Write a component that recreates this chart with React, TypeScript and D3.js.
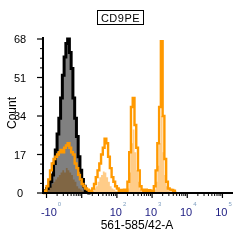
import React from 'react';
import * as d3 from 'd3';

// histogram bins in display units (decades), 0.05 wide, first bin starts at -0.1
const BIN_START = -0.1;
const BIN_W = 0.05;

// control sample: black outline, gray fill
const controlCounts = [
  0.5, 1, 2, 3, 5, 8, 13, 19, 26, 33, 42, 52, 60, 66, 68, 62, 55, 42, 33, 25,
  16, 10, 6, 3, 1, 0.5, 0,
];

// stained sample: orange outline
const stainedLine = [
  0, 1, 3, 6, 10, 13, 15, 16, 17, 18, 19, 18, 20, 21, 22, 20, 18, 17, 13, 11,
  8, 6, 4, 3, 2, 1.5, 1, 1, 2, 4, 7, 10, 13, 17, 20, 24, 22, 16, 11, 7,
  5, 3, 2, 1, 1.3, 1, 1.5, 1, 5, 18, 38, 42, 30, 20, 10, 3, 1.5, 1, 1.5, 1,
  1.2, 1, 1, 3, 10, 22, 38, 67, 34, 15, 5, 2, 1.5, 1.3, 1, 0,
];

// second stained sample: light orange fill
const stainedFill = [
  0, 0.5, 1, 2, 3, 4, 5, 6, 7, 8, 9, 10, 9, 11, 10, 9, 8, 6, 5, 3,
  2, 1.5, 1, 0.6, 0.5, 0.4, 0.5, 0.5, 1, 2, 3, 5, 7, 8, 9.5, 9, 7, 5, 3, 2,
  1.5, 1, 0.6, 0.5, 0.6, 0.5, 0.6, 0.5, 2, 9, 22, 28, 18, 10, 5, 1.5, 0.8, 0.5, 0.6, 0.5,
  0.5, 0.5, 0.6, 1.5, 5, 12, 22, 34, 18, 8, 3, 1, 0.6, 0.5, 0.3, 0,
];

const yTicks = [0, 17, 34, 51, 68];
const xTickPos = [0.15, 2, 3, 4, 5];
const xTickBase = ['-10', '10', '10', '10', '10'];
const xTickExp = ['0', '2', '3', '4', '5'];

const FONT = 'Liberation Sans, Arial, sans-serif';

const App: React.FC = () => {
  const x = d3.scaleLinear().domain([-0.1, 5.3]).range([43, 233]);
  const y = d3.scaleLinear().domain([0, 68]).range([193, 39]);

  const toPts = (arr: number[]) => [
    ...arr.map((c, i) => ({ u: BIN_START + i * BIN_W, c })),
    { u: BIN_START + arr.length * BIN_W, c: 0 },
  ];

  const area = d3.area<{ u: number; c: number }>()
    .x(d => x(d.u))
    .y0(y(0))
    .y1(d => y(d.c))
    .curve(d3.curveStepAfter);

  const line = d3.line<{ u: number; c: number }>()
    .x(d => x(d.u))
    .y(d => y(d.c))
    .curve(d3.curveStepAfter);

  const ctrl = toPts(controlCounts);
  const stLine = toPts(stainedLine);
  const stFill = toPts(stainedFill);

  // minor ticks: 4 steps between y majors, log steps between x decades
  const yMinor: number[] = [];
  for (let i = 0; i < yTicks.length - 1; i++) {
    const step = (yTicks[i + 1] - yTicks[i]) / 4;
    for (let k = 1; k < 4; k++) yMinor.push(yTicks[i] + k * step);
  }
  const xMinor: number[] = [];
  for (let d = 0; d < 5; d++) {
    for (let k = 2; k < 10; k++) xMinor.push(d + Math.log10(k));
  }
  const xMajor = [0, 1, 2, 3, 4, 5];

  return (
    <svg width={240} height={240} style={{ position: 'absolute', left: 0, top: 0, background: '#fff' }}>
      {/* histograms */}
      <path d={area(ctrl) || ''} fill="#808080" />
      <path d={line(ctrl) || ''} fill="none" stroke="#000" strokeWidth={3} />
      <path d={area(stFill) || ''} fill="#ffcc88" style={{ mixBlendMode: 'multiply' }} />
      <path d={line(stLine) || ''} fill="none" stroke="#ff9900" strokeWidth={2.4} />

      {/* y axis */}
      <line x1={43} x2={43} y1={y(68) - 2} y2={y(0) + 1} stroke="#000" strokeWidth={2} />
      {yTicks.map(t => (
        <g key={'y' + t}>
          <line x1={37} x2={43} y1={y(t)} y2={y(t)} stroke="#000" strokeWidth={1.2} />
          <text x={20} y={y(t) + 4} textAnchor="middle" fontSize={11} fontFamily={FONT} fill="#000">{t}</text>
        </g>
      ))}
      {yMinor.map(t => (
        <line key={'ym' + t} x1={40} x2={43} y1={y(t)} y2={y(t)} stroke="#000" strokeWidth={1} />
      ))}
      <text transform={`translate(16,113) rotate(-90)`} textAnchor="middle" fontSize={12} fontFamily={FONT} fill="#000">Count</text>

      {/* x axis */}
      <line x1={42} x2={233} y1={193} y2={193} stroke="#000" strokeWidth={2} />
      {xMajor.map(t => (
        <line key={'xM' + t} x1={x(t)} x2={x(t)} y1={193} y2={198} stroke="#000" strokeWidth={1.2} />
      ))}
      {xMinor.map(t => (
        <line key={'xm' + t} x1={x(t)} x2={x(t)} y1={193} y2={196} stroke="#000" strokeWidth={1} />
      ))}
      {xTickPos.map((t, i) => (
        <g key={'xl' + i}>
          <text x={x(t) + 5} y={216} textAnchor="end" fontSize={11} fontFamily={FONT} fill="#1a1a80">{xTickBase[i]}</text>
          <text x={x(t) + 6} y={206} fontSize={6} fontFamily={FONT} fill="#7f9fc0">{xTickExp[i]}</text>
        </g>
      ))}
      <text x={137} y={229} textAnchor="middle" fontSize={12} fontFamily={FONT} fill="#000">561-585/42-A</text>

      {/* title box */}
      <rect x={97.5} y={10.5} width={46} height={14} fill="#fff" stroke="#000" strokeWidth={1} />
      <text x={120.5} y={21.5} textAnchor="middle" fontSize={11} fontFamily={FONT} letterSpacing={0.5} fill="#000">CD9PE</text>
    </svg>
  );
};

export default App;
